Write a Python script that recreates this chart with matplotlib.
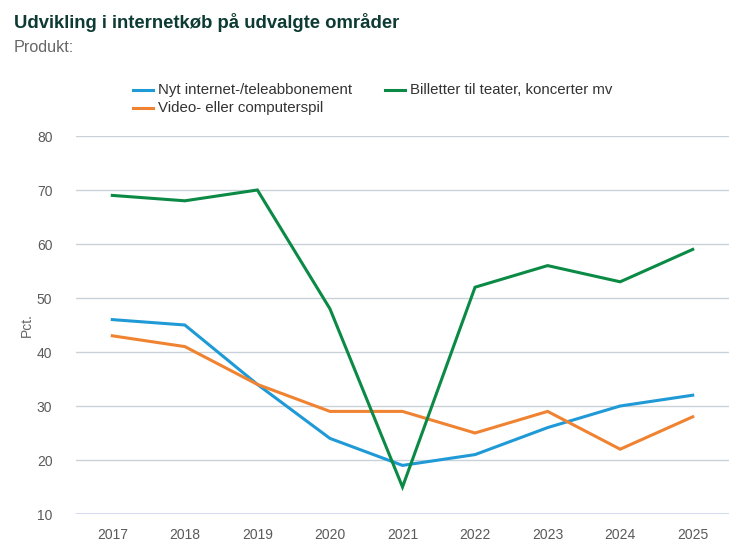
import matplotlib
matplotlib.use("Agg")
import matplotlib.pyplot as plt
from matplotlib.lines import Line2D

years = ["2017", "2018", "2019", "2020", "2021", "2022", "2023", "2024", "2025"]
internet = [46, 45, 34, 24, 19, 21, 26, 30, 32]
video = [43, 41, 34, 29, 29, 25, 29, 22, 28]
billetter = [69, 68, 70, 48, 15, 52, 56, 53, 59]
series_names = ["Nyt internet-/teleabbonement", "Video- eller computerspil",
                "Billetter til teater, koncerter mv"]
colors = ["#1f9ad6", "#f08332", "#0b8a45"]
yticks = [10, 20, 30, 40, 50, 60, 70, 80]

plt.rcParams['font.family'] = ['Liberation Sans', 'DejaVu Sans']

fig = plt.figure(figsize=(7.5, 5.55), dpi=100)
W, H = 750, 555
ax = fig.add_axes([76 / W, 1 - 514 / H, (729 - 76) / W, (514 - 136) / H])

x = list(range(len(years)))
for vals, c in zip([internet, video, billetter], colors):
    ax.plot(x, vals, color=c, linewidth=2.2, solid_joinstyle='miter', zorder=3)

ax.set_xlim(-0.5, len(years) - 0.5)
ax.set_ylim(10, 80)
ax.set_yticks(yticks)
ax.set_xticks(x)
ax.set_xticklabels(years)
for s in ax.spines.values():
    s.set_visible(False)
ax.grid(axis='y', color='#c9d2d8', linewidth=1)
ax.set_axisbelow(True)
ax.axhline(10, color='#ccd6eb', linewidth=1.2, zorder=1)
ax.tick_params(axis='both', length=0, labelsize=10, labelcolor='#5a5a5a')
ax.tick_params(axis='y', pad=17)
ax.tick_params(axis='x', pad=10)
ax.set_ylabel("Pct.", fontsize=10, color='#666666', labelpad=2)

fig.text(14 / W, 1 - 22 / H, "Udvikling i internetkøb på udvalgte områder",
         fontsize=13.3, fontweight='bold', color='#0d3b33', va='center', ha='left')
fig.text(14 / W, 1 - 48 / H, "Produkt:", fontsize=11.6, color='#666666',
         va='center', ha='left')

# legend
leg_items = [(133, 90, 0), (133, 108, 1), (385, 90, 2)]
for lx, ly, i in leg_items:
    fig.add_artist(Line2D([lx / W, (lx + 20) / W], [1 - ly / H, 1 - ly / H],
                          color=colors[i], linewidth=2.2))
    fig.text((lx + 25) / W, 1 - ly / H, series_names[i], fontsize=10.8,
             color='#333333', va='center', ha='left')

fig.savefig("out.png", dpi=100)
